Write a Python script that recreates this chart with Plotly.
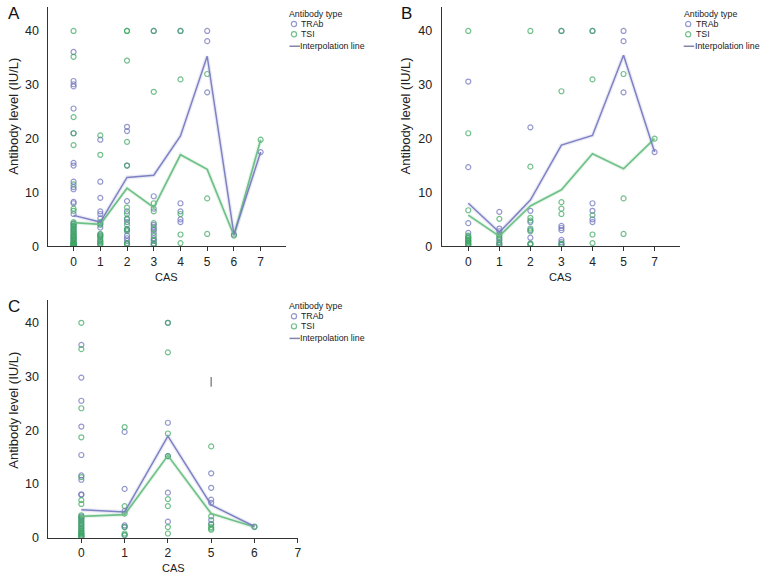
import plotly.graph_objects as go

# ---------------- data ----------------
# Panel A
cas_a = [0, 1, 2, 3, 4, 5, 6, 7]
a_trab = [
    [36.1, 30.7, 30.1, 29.7, 25.6, 21.0, 15.5, 15.0, 12.0, 11.0, 10.6, 8.25, 8.0, 6.0, 4.2, 3.8, 3.2, 2.6, 2.0, 1.5, 1.0, 0.6, 0.3, 0.1],
    [19.8, 12.0, 9.0, 6.5, 6.0, 5.2, 4.2, 3.5, 2.2, 1.8, 1.0, 0.5],
    [22.2, 21.4, 15.0, 8.4, 6.5, 5.0, 4.5, 3.2, 3.0, 2.0, 1.5, 1.0, 0.5],
    [40.0, 9.3, 7.0, 4.0, 3.6, 3.0, 2.5, 1.5, 1.0, 0.5],
    [40.0, 8.0, 6.5, 5.0, 4.5],
    [40.0, 38.1, 28.6],
    [2.2],
    [17.5],
]
a_tsi = [
    [40.0, 35.2, 24.0, 21.0, 18.8, 11.5, 7.0, 6.6, 4.5, 4.2, 3.9, 3.6, 3.3, 3.0, 2.8, 2.5, 2.2, 2.0, 1.8,
     1.6, 1.4, 1.2, 0.9, 0.8, 0.6, 0.5, 0.4, 0.3, 0.2, 0.1, 0.0],
    [20.6, 17.0, 4.5, 4.0, 2.3, 2.0, 1.6, 1.2, 0.8, 0.5, 0.2],
    [40.0, 40.0, 34.5, 19.4, 15.0, 7.2, 6.0, 5.2, 4.0, 3.2, 2.8, 0.6, 0.4],
    [40.0, 28.7, 8.0, 6.5, 4.3, 3.2, 2.0, 1.2, 0.5, 0.2],
    [40.0, 31.0, 6.0, 2.2, 0.6],
    [32.0, 8.9, 2.3],
    [2.0],
    [19.8],
]
a_trab_line = [5.75, 4.5, 12.8, 13.2, 20.5, 35.3, 2.2, 17.5]
a_tsi_line = [4.4, 4.1, 10.8, 7.2, 17.0, 14.3, 2.0, 19.8]

# Panel B
cas_b = [0, 1, 2, 3, 4, 5, 7]
b_trab = [
    [30.6, 14.7, 4.3, 2.5, 1.5, 1.0, 0.5],
    [6.4, 3.3, 2.8, 1.5, 0.8, 0.3],
    [22.1, 6.6, 4.5, 3.0, 1.6, 0.5],
    [40.0, 3.8, 3.4, 3.0, 1.2, 0.8, 0.3],
    [40.0, 8.0, 6.6, 5.0, 4.5],
    [40.0, 38.1, 28.6],
    [17.5],
]
b_tsi = [
    [40.0, 21.0, 6.7, 2.0, 1.8, 1.5, 1.2, 1.0, 0.8, 0.5, 0.3, 0.1],
    [5.1, 2.2, 1.8, 1.2, 0.6, 0.2],
    [40.0, 14.8, 5.3, 4.8, 3.3, 2.8, 0.5, 0.3],
    [40.0, 28.8, 8.2, 7.0, 6.0, 0.5, 0.3],
    [40.0, 31.0, 5.8, 2.2, 0.6],
    [32.0, 8.9, 2.3],
    [20.0],
]
b_trab_line = [8.0, 2.6, 8.6, 18.8, 20.6, 35.5, 17.5]
b_tsi_line = [5.8, 1.9, 7.5, 10.5, 17.2, 14.4, 20.0]

# Panel C
cas_c = [0, 1, 2, 5, 6, 7]
c_trab = [
    [35.9, 29.8, 25.5, 20.7, 15.4, 11.6, 10.8, 8.1, 8.0, 4.0, 3.6, 3.0, 2.4, 1.8, 1.2, 0.8, 0.4, 0.1],
    [19.7, 9.1, 5.0, 2.3, 2.0, 0.5],
    [40.0, 21.4, 15.2, 8.4, 3.0],
    [12.0, 9.3, 7.1, 6.5, 3.3, 2.6],
    [2.1],
    [],
]
c_tsi = [
    [40.0, 35.1, 24.1, 18.7, 11.3, 7.0, 6.3, 4.2, 3.8, 3.5, 3.2, 2.8, 2.5, 2.2, 1.9, 1.6, 1.3, 1.0,
     0.8, 0.6, 0.4, 0.3, 0.1],
    [20.6, 5.9, 4.5, 2.0, 0.8, 0.5],
    [40.0, 34.5, 19.4, 15.2, 7.2, 5.9, 2.0, 0.8],
    [17.0, 4.0, 2.5, 2.0, 1.7, 1.5],
    [2.0],
    [],
]
c_trab_line = [5.2, 4.8, 18.9, 6.1, 2.1]
c_tsi_line = [4.0, 4.3, 15.3, 4.5, 2.0]
c_mark_cas = [5]
c_mark_val = [29.0]

y_ticks = [0, 10, 20, 30, 40]

# ---------------- style ----------------
W, H = 769, 586
TRAB_M = "rgba(112,118,190,0.75)"
TSI_M = "rgba(60,168,95,0.72)"
TRAB_L = "rgba(120,124,192,0.95)"
TSI_L = "rgba(104,190,130,0.95)"
FONT = "Liberation Sans, Arial, sans-serif"
LEG_SIZE = 8.8

def px_x(p):
    return p / W

def px_y(p):
    return 1 - p / H

panels = [
    # name, cats, trab, tsi, trab_line, tsi_line, x px range, y px (bottom, top), xrange, ymax, ytitle center
    ("A", cas_a, a_trab, a_tsi, a_trab_line, a_tsi_line, (48.7, 287.0), (249.3, 6.8), (-0.94, 7.93), 44.5, 117.5),
    ("B", cas_b, b_trab, b_tsi, b_trab_line, b_tsi_line, (444.0, 683.3), (249.3, 6.8), (-0.856, 6.81), 44.5, 117.0),
    ("C", cas_c, c_trab, c_tsi, c_trab_line, c_tsi_line, (48.7, 299.3), (544.3, 303.3), (-0.76, 5.0), 44.3, 415.0),
]

fig = go.Figure()
layout = dict(
    width=W, height=H, margin=dict(l=0, r=0, t=0, b=0),
    paper_bgcolor="white", plot_bgcolor="white", showlegend=False,
    font=dict(family=FONT, size=12, color="#222"),
)
annotations = []
shapes = []

for k, (name, cats, trab, tsi, tl, sl, xpx, ypx, xr, ymax, ytc) in enumerate(panels):
    sfx = "" if k == 0 else str(k + 1)
    xa, ya = "x" + sfx, "y" + sfx
    idx = list(range(len(cats)))
    line_idx = [i for i in idx if len(trab[i]) > 0]

    # soft bands behind interpolation lines
    fig.add_trace(go.Scatter(x=line_idx, y=tl, mode="lines", xaxis=xa, yaxis=ya,
                             line=dict(color="rgba(120,124,192,0.15)", width=4), hoverinfo="skip"))
    fig.add_trace(go.Scatter(x=line_idx, y=sl, mode="lines", xaxis=xa, yaxis=ya,
                             line=dict(color="rgba(104,190,130,0.15)", width=4), hoverinfo="skip"))

    # points
    tx, ty, sx, sy = [], [], [], []
    for i in idx:
        tx += [i] * len(trab[i]); ty += trab[i]
        sx += [i] * len(tsi[i]); sy += tsi[i]
    fig.add_trace(go.Scatter(x=tx, y=ty, mode="markers", name="TRAb", xaxis=xa, yaxis=ya,
                             marker=dict(symbol="circle-open", size=5, color=TRAB_M, line=dict(width=1.2))))
    fig.add_trace(go.Scatter(x=sx, y=sy, mode="markers", name="TSI", xaxis=xa, yaxis=ya,
                             marker=dict(symbol="circle-open", size=5, color=TSI_M, line=dict(width=1.2))))

    # interpolation lines
    fig.add_trace(go.Scatter(x=line_idx, y=sl, mode="lines", xaxis=xa, yaxis=ya,
                             line=dict(color=TSI_L, width=1.7), name="TSI line"))
    fig.add_trace(go.Scatter(x=line_idx, y=tl, mode="lines", xaxis=xa, yaxis=ya,
                             line=dict(color=TRAB_L, width=1.5), name="TRAb line"))

    if name == "C":
        fig.add_trace(go.Scatter(x=[cats.index(c) for c in c_mark_cas], y=c_mark_val, mode="markers",
                                 xaxis=xa, yaxis=ya,
                                 marker=dict(symbol="line-ns-open", size=7, color="rgba(110,110,110,0.8)",
                                             line=dict(width=1.5))))

    layout["xaxis" + sfx] = dict(
        domain=[px_x(xpx[0]), px_x(xpx[1])], anchor=ya, range=list(xr),
        tickvals=idx, ticktext=[str(c) for c in cats],
        showline=True, linecolor="#333", linewidth=1, ticks="outside", ticklen=4,
        tickcolor="#333", showgrid=False, zeroline=False,
        tickfont=dict(family=FONT, size=12, color="#222"),
    )
    layout["yaxis" + sfx] = dict(
        domain=[px_y(ypx[0]), px_y(ypx[1])], anchor=xa, range=[0, ymax],
        tickvals=y_ticks, showline=True, linecolor="#333", linewidth=1, ticks="",
        showgrid=False, zeroline=False, ticklabelstandoff=6,
        tickfont=dict(family=FONT, size=12.5, color="#222"),
    )

    # panel letter
    annotations.append(dict(text=name, xref="paper", yref="paper",
                            x=px_x(xpx[0] - 43), y=px_y(ypx[1] + 7), xanchor="left", yanchor="middle",
                            showarrow=False, font=dict(family=FONT, size=17, color="#111")))
    # axis titles
    annotations.append(dict(text="CAS", xref="paper", yref="paper",
                            x=px_x((xpx[0] + xpx[1]) / 2), y=px_y(ypx[0] + 31),
                            xanchor="center", yanchor="middle", showarrow=False,
                            font=dict(family=FONT, size=11, color="#222")))
    annotations.append(dict(text="Antibody level (IU/L)", xref="paper", yref="paper",
                            x=px_x(xpx[0] - 36), y=px_y(ytc), textangle=-90,
                            xanchor="center", yanchor="middle", showarrow=False,
                            font=dict(family=FONT, size=13, color="#222")))

    # legend (drawn as text + glyphs)
    lx = xpx[1] + 4 if name != "C" else 291
    ly = ypx[1] + 7 if name != "C" else 309.5
    annotations.append(dict(text="Antibody type", xref="paper", yref="paper", x=px_x(lx - 2), y=px_y(ly),
                            xanchor="left", yanchor="middle", showarrow=False,
                            font=dict(family=FONT, size=LEG_SIZE, color="#222")))
    for j, (lab, col) in enumerate([("TRAb", TRAB_M), ("TSI", TSI_M)]):
        yy = ly + 10.5 + j * 10.3
        shapes.append(dict(type="circle", xref="paper", yref="paper", xsizemode="pixel", ysizemode="pixel",
                           xanchor=px_x(lx + 4.5), yanchor=px_y(yy), x0=-2.6, x1=2.6, y0=-2.6, y1=2.6,
                           line=dict(color=col, width=1.2)))
        annotations.append(dict(text=lab, xref="paper", yref="paper", x=px_x(lx + 10), y=px_y(yy),
                                xanchor="left", yanchor="middle", showarrow=False,
                                font=dict(family=FONT, size=LEG_SIZE, color="#222")))
    yy = ly + 33
    shapes.append(dict(type="line", xref="paper", yref="paper", x0=px_x(lx), x1=px_x(lx + 10.5),
                       y0=px_y(yy), y1=px_y(yy), line=dict(color="rgba(120,120,160,0.9)", width=1.5)))
    annotations.append(dict(text="Interpolation line", xref="paper", yref="paper", x=px_x(lx + 9),
                            y=px_y(yy), xanchor="left", yanchor="middle", showarrow=False,
                            font=dict(family=FONT, size=LEG_SIZE, color="#222")))

layout["annotations"] = annotations
layout["shapes"] = shapes
fig.update_layout(**layout)
fig.write_html("out.html", config={"displayModeBar": False},
               post_script="document.body.style.margin='0';document.body.style.overflow='hidden';")
